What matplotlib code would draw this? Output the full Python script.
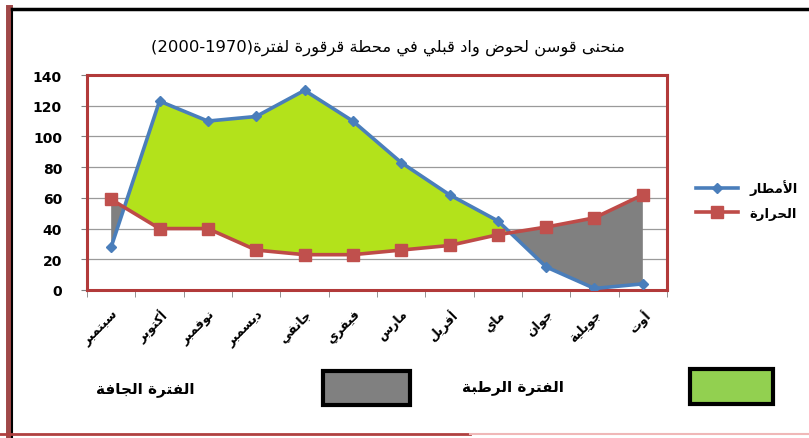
import matplotlib
matplotlib.use("Agg")
import matplotlib.pyplot as plt
import numpy as np
from matplotlib.patches import Rectangle
from matplotlib.lines import Line2D

# ---------------- data ----------------
months = ["سبتمبر", "أكتوبر", "نوفمبر", "ديسمبر", "جانفي", "فيفري",
          "مارس", "أفريل", "ماي", "جوان", "جويلية", "أوت"]
rain = [28, 123, 110, 113, 130, 110, 83, 62, 45, 15, 1, 4]
temp = [59, 40, 40, 26, 23, 23, 26, 29, 36, 41, 47, 62]
yticks = [0, 20, 40, 60, 80, 100, 120, 140]
title_ar = "منحنى قوسن لحوض واد قبلي في محطة قرقورة لفترة"
title_years = "(2000-1970)"
rain_label = "الأمطار"
temp_label = "الحرارة"
wet_label = "الفترة الرطبة"
dry_label = "الفترة الجافة"

# ---------------- minimal Arabic shaping ----------------
FORMS = {
    0x0621: (0xFE80, None, None, None),
    0x0622: (0xFE81, 0xFE82, None, None),
    0x0623: (0xFE83, 0xFE84, None, None),
    0x0624: (0xFE85, 0xFE86, None, None),
    0x0625: (0xFE87, 0xFE88, None, None),
    0x0626: (0xFE89, 0xFE8A, 0xFE8B, 0xFE8C),
    0x0627: (0xFE8D, 0xFE8E, None, None),
    0x0628: (0xFE8F, 0xFE90, 0xFE91, 0xFE92),
    0x0629: (0xFE93, 0xFE94, None, None),
    0x062A: (0xFE95, 0xFE96, 0xFE97, 0xFE98),
    0x062B: (0xFE99, 0xFE9A, 0xFE9B, 0xFE9C),
    0x062C: (0xFE9D, 0xFE9E, 0xFE9F, 0xFEA0),
    0x062D: (0xFEA1, 0xFEA2, 0xFEA3, 0xFEA4),
    0x062E: (0xFEA5, 0xFEA6, 0xFEA7, 0xFEA8),
    0x062F: (0xFEA9, 0xFEAA, None, None),
    0x0630: (0xFEAB, 0xFEAC, None, None),
    0x0631: (0xFEAD, 0xFEAE, None, None),
    0x0632: (0xFEAF, 0xFEB0, None, None),
    0x0633: (0xFEB1, 0xFEB2, 0xFEB3, 0xFEB4),
    0x0634: (0xFEB5, 0xFEB6, 0xFEB7, 0xFEB8),
    0x0635: (0xFEB9, 0xFEBA, 0xFEBB, 0xFEBC),
    0x0636: (0xFEBD, 0xFEBE, 0xFEBF, 0xFEC0),
    0x0637: (0xFEC1, 0xFEC2, 0xFEC3, 0xFEC4),
    0x0638: (0xFEC5, 0xFEC6, 0xFEC7, 0xFEC8),
    0x0639: (0xFEC9, 0xFECA, 0xFECB, 0xFECC),
    0x063A: (0xFECD, 0xFECE, 0xFECF, 0xFED0),
    0x0641: (0xFED1, 0xFED2, 0xFED3, 0xFED4),
    0x0642: (0xFED5, 0xFED6, 0xFED7, 0xFED8),
    0x0643: (0xFED9, 0xFEDA, 0xFEDB, 0xFEDC),
    0x0644: (0xFEDD, 0xFEDE, 0xFEDF, 0xFEE0),
    0x0645: (0xFEE1, 0xFEE2, 0xFEE3, 0xFEE4),
    0x0646: (0xFEE5, 0xFEE6, 0xFEE7, 0xFEE8),
    0x0647: (0xFEE9, 0xFEEA, 0xFEEB, 0xFEEC),
    0x0648: (0xFEED, 0xFEEE, None, None),
    0x0649: (0xFEEF, 0xFEF0, None, None),
    0x064A: (0xFEF1, 0xFEF2, 0xFEF3, 0xFEF4),
}
LAM_ALEF = {0x0622: (0xFEF5, 0xFEF6), 0x0623: (0xFEF7, 0xFEF8),
            0x0625: (0xFEF9, 0xFEFA), 0x0627: (0xFEFB, 0xFEFC)}


def _dual(c):
    f = FORMS.get(ord(c))
    return f is not None and f[2] is not None


def _ar(c):
    return ord(c) in FORMS


def shape(text):
    chars = []
    i = 0
    while i < len(text):
        c = text[i]
        if ord(c) == 0x0644 and i + 1 < len(text) and ord(text[i + 1]) in LAM_ALEF:
            chars.append(("LA", text[i + 1]))
            i += 2
        else:
            chars.append(("C", c))
            i += 1
    out = []
    n = len(chars)
    for k, (kind, c) in enumerate(chars):
        prev = chars[k - 1] if k > 0 else None
        nxt = chars[k + 1] if k + 1 < n else None
        pj = prev is not None and prev[0] == "C" and _dual(prev[1])
        if kind == "LA":
            iso, fin = LAM_ALEF[ord(c)]
            out.append(chr(fin if pj else iso))
            continue
        if not _ar(c):
            out.append(c)
            continue
        f = FORMS[ord(c)]
        nj = _dual(c) and nxt is not None and (
            (nxt[0] == "LA") or (nxt[0] == "C" and _ar(nxt[1])))
        if pj and nj:
            g = f[3]
        elif pj:
            g = f[1]
        elif nj:
            g = f[2]
        else:
            g = f[0]
        out.append(chr(g if g is not None else f[0]))
    return "".join(out)[::-1]


# ---------------- figure ----------------
fig = plt.figure(figsize=(8.09, 4.39), dpi=100)
fig.patch.set_facecolor("white")
W, H = 809.0, 439.0

ax = fig.add_axes([87 / W, 1 - 291 / H, (667 - 87) / W, (291 - 76) / H])
x = np.arange(len(months))
r = np.array(rain, dtype=float)
t = np.array(temp, dtype=float)

ax.fill_between(x, r, t, where=r >= t, interpolate=True, color="#B3E21B",
                linewidth=0, zorder=1)
ax.fill_between(x, r, t, where=r <= t, interpolate=True, color="#808080",
                linewidth=0, zorder=1)
ax.plot(x, rain, color="#4A7EBB", lw=2.6, marker="D", ms=5.5,
        mfc="#4A7EBB", mec="#4A7EBB", zorder=3, label=shape(rain_label))
ax.plot(x, temp, color="#BE4B48", lw=2.6, marker="s", ms=8,
        mfc="#C0504D", mec="#C0504D", zorder=3, label=shape(temp_label))

ax.set_xlim(-0.5, len(months) - 0.5)
ax.set_ylim(0, 140)
ax.set_yticks(yticks)
ax.set_yticklabels([str(v) for v in yticks], fontsize=10, fontweight="bold")
ax.yaxis.grid(True, color="#9A9A9A", lw=0.9)
ax.set_axisbelow(True)
ax.tick_params(axis="y", length=4, color="#808080", pad=14, labelsize=10)

ax.set_xticks(x)
ax.set_xticklabels([shape(m) for m in months], rotation=45, ha="right",
                   va="top", fontsize=9, fontweight="bold",
                   rotation_mode="anchor")
ax.tick_params(axis="x", length=0, pad=12)
ax.set_xticks(np.arange(-0.5, len(months) + 0.5, 1), minor=True)
ax.tick_params(axis="x", which="minor", length=5, color="#808080")

for s in ax.spines.values():
    s.set_color("#B23A3A")
    s.set_linewidth(2.2)

leg = ax.legend(loc="center left", bbox_to_anchor=(1.03, 0.42), frameon=False,
                handlelength=3.2, labelspacing=0.9,
                prop={"weight": "bold", "size": 9.5})

fig.text(388 / W, 1 - 48 / H, title_years + shape(title_ar), ha="center",
         va="center", fontsize=11.8)

# bottom key boxes
fig.patches.append(Rectangle((690 / W, 1 - 405 / H), 83 / W, 35 / H,
                             transform=fig.transFigure, facecolor="#92D050",
                             edgecolor="black", lw=3))
fig.patches.append(Rectangle((323 / W, 1 - 406 / H), 87 / W, 34 / H,
                             transform=fig.transFigure, facecolor="#808080",
                             edgecolor="black", lw=3))
fig.text(513 / W, 1 - 388 / H, shape(wet_label), ha="center", va="center",
         fontsize=11, fontweight="bold")
fig.text(145 / W, 1 - 390 / H, shape(dry_label), ha="center", va="center",
         fontsize=11, fontweight="bold")

# outer frame
fig.lines.append(Line2D([9 / W, 9 / W], [0, 1 - 9 / H], transform=fig.transFigure,
                        color="#A04848", lw=5))
fig.lines.append(Line2D([12 / W, 12 / W], [0, 1 - 10 / H], transform=fig.transFigure,
                        color="black", lw=1.5))
fig.lines.append(Line2D([12 / W, 1], [1 - 10 / H, 1 - 10 / H], transform=fig.transFigure,
                        color="black", lw=2.5))
fig.lines.append(Line2D([0, 470 / W], [1 - 435 / H, 1 - 435 / H], transform=fig.transFigure,
                        color="#B04040", lw=2))
fig.lines.append(Line2D([470 / W, 1], [1 - 435 / H, 1 - 435 / H], transform=fig.transFigure,
                        color="#F0B8B8", lw=1.5))

fig.savefig("out.png", dpi=100)
